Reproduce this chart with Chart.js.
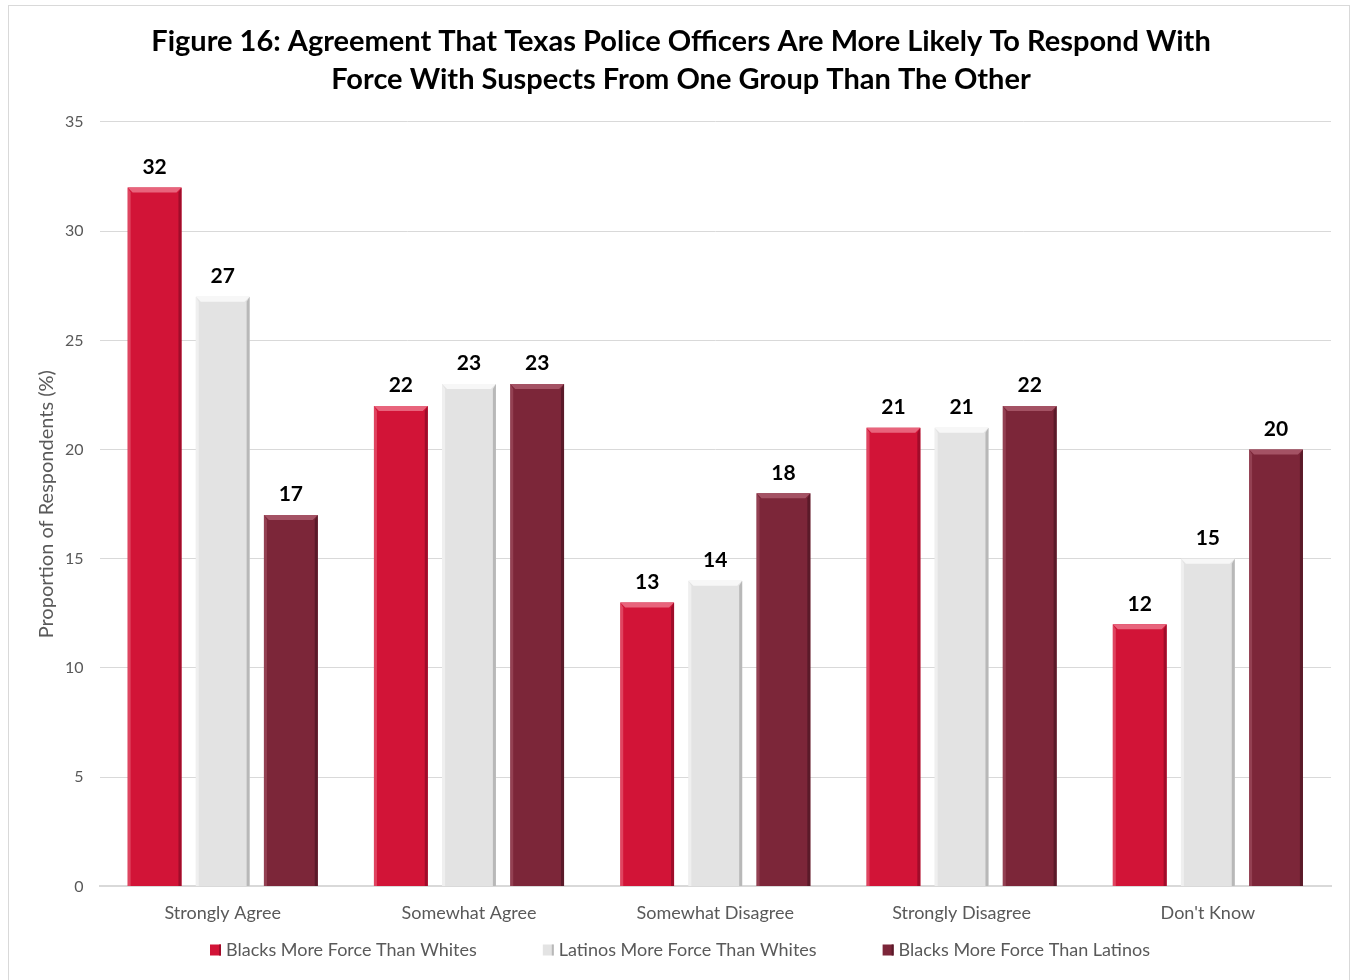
<!DOCTYPE html>
<html>
<head>
<meta charset="utf-8">
<script src="https://cdn.jsdelivr.net/npm/chart.js@4.4.1/dist/chart.umd.min.js"></script>
<style>
  html, body { margin: 0; padding: 0; background: #fff; }
  #frame { position: absolute; left: 8px; top: 5px; width: 1342px; height: 990px; border: 1px solid #d9d9d9; box-sizing: border-box; }
  #wrap { position: absolute; left: 0; top: 0; width: 1353px; height: 980px; }
</style>
</head>
<body>
<div id="frame"></div>
<div id="wrap"><canvas id="myChart" width="1353" height="980"></canvas></div>
<script>
// data
const categories = ['Strongly Agree', 'Somewhat Agree', 'Somewhat Disagree', 'Strongly Disagree', "Don't Know"];
const blacksVsWhites = [32, 22, 13, 21, 12];
const latinosVsWhites = [27, 23, 14, 21, 15];
const blacksVsLatinos = [17, 23, 18, 22, 20];
const seriesNames = ['Blacks More Force Than Whites', 'Latinos More Force Than Whites', 'Blacks More Force Than Latinos'];
const titleLines = ['Figure 16: Agreement That Texas Police Officers Are More Likely To Respond With', 'Force With Suspects From One Group Than The Other'];

const colors = ['#d21437', '#e3e3e3', '#7c2639'];
const edgeLight = ['#e8647c', '#f7f7f7', '#a45264'];
const edgeDark = ['#a00c2a', '#b8b8b8', '#5a1a29'];

const FONT = 'Lato, "Open Sans", sans-serif';

// bevel look on each bar + value labels on top
const bevelPlugin = {
  id: 'bevel',
  afterDatasetsDraw(chart) {
    const ctx = chart.ctx;
    chart.data.datasets.forEach((ds, di) => {
      const meta = chart.getDatasetMeta(di);
      meta.data.forEach((bar, i) => {
        const l = bar.x - bar.width / 2, r = bar.x + bar.width / 2;
        const t = bar.y, b = bar.base;
        const e = 5;
        ctx.save();
        // top
        ctx.fillStyle = edgeLight[di];
        ctx.beginPath();
        ctx.moveTo(l, t); ctx.lineTo(r, t); ctx.lineTo(r - e, t + e); ctx.lineTo(l + e, t + e); ctx.closePath();
        ctx.fill();
        // right side
        ctx.fillStyle = edgeDark[di];
        ctx.beginPath();
        ctx.moveTo(r, t); ctx.lineTo(r, b); ctx.lineTo(r - 3, b); ctx.lineTo(r - 3, t + e); ctx.closePath();
        ctx.fill();
        // left side
        ctx.fillStyle = edgeLight[di];
        ctx.globalAlpha = 0.6;
        ctx.beginPath();
        ctx.moveTo(l, t); ctx.lineTo(l + 3, t + e); ctx.lineTo(l + 3, b); ctx.lineTo(l, b); ctx.closePath();
        ctx.fill();
        ctx.globalAlpha = 1;
        // value
        ctx.fillStyle = '#000';
        ctx.font = 'bold 21px ' + FONT;
        ctx.textAlign = 'center';
        ctx.textBaseline = 'bottom';
        ctx.fillText(ds.data[i], bar.x, t - 10);
        ctx.restore();
      });
    });
  }
};

// legend row under the axis, spaced like the original
const legendRow = {
  id: 'legendRow',
  afterDraw(chart) {
    const ctx = chart.ctx;
    const y = 950, box = 11, gapText = 5, gapItem = 66;
    ctx.save();
    ctx.font = '18px ' + FONT;
    const widths = seriesNames.map(s => ctx.measureText(s).width);
    let total = 0;
    widths.forEach((w, i) => { total += box + gapText + w + (i < widths.length - 1 ? gapItem : 0); });
    let x = 680 - total / 2;
    seriesNames.forEach((s, i) => {
      ctx.fillStyle = colors[i];
      ctx.fillRect(x, y - box / 2, box, box);
      ctx.fillStyle = edgeDark[i];
      ctx.fillRect(x + box - 2, y - box / 2, 2, box);
      x += box + gapText;
      ctx.fillStyle = '#595959';
      ctx.textAlign = 'left';
      ctx.textBaseline = 'middle';
      ctx.fillText(s, x, y);
      x += widths[i] + gapItem;
    });
    ctx.restore();
  }
};

const ctx = document.getElementById('myChart').getContext('2d');
new Chart(ctx, {
  type: 'bar',
  data: {
    labels: categories,
    datasets: [
      { label: seriesNames[0], data: blacksVsWhites, backgroundColor: colors[0] },
      { label: seriesNames[1], data: latinosVsWhites, backgroundColor: colors[1] },
      { label: seriesNames[2], data: blacksVsLatinos, backgroundColor: colors[2] }
    ]
  },
  options: {
    responsive: false,
    animation: false,
    devicePixelRatio: 1,
    layout: { padding: { left: 31, right: 22, top: 14, bottom: 48 } },
    datasets: { bar: { categoryPercentage: 0.83, barPercentage: 0.79 } },
    scales: {
      x: {
        grid: { display: false },
        border: { color: '#d9d9d9', width: 2 },
        ticks: { color: '#595959', font: { family: FONT, size: 18 }, padding: 8 }
      },
      y: {
        min: 0, max: 35,
        ticks: { stepSize: 5, color: '#595959', font: { family: FONT, size: 16 }, padding: 16 },
        grid: { color: '#d9d9d9', drawTicks: false },
        border: { display: false },
        title: { display: true, text: 'Proportion of Respondents (%)', color: '#595959', font: { family: FONT, size: 20 }, padding: { top: 4, bottom: -10 } }
      }
    },
    plugins: {
      title: {
        display: true,
        text: titleLines,
        color: '#000',
        font: { family: FONT, size: 29, weight: 'bold', lineHeight: 1.31 },
        padding: { top: 9, bottom: 23 }
      },
      legend: { display: false },
      tooltip: { enabled: false }
    }
  },
  plugins: [bevelPlugin, legendRow]
});
</script>
</body>
</html>
